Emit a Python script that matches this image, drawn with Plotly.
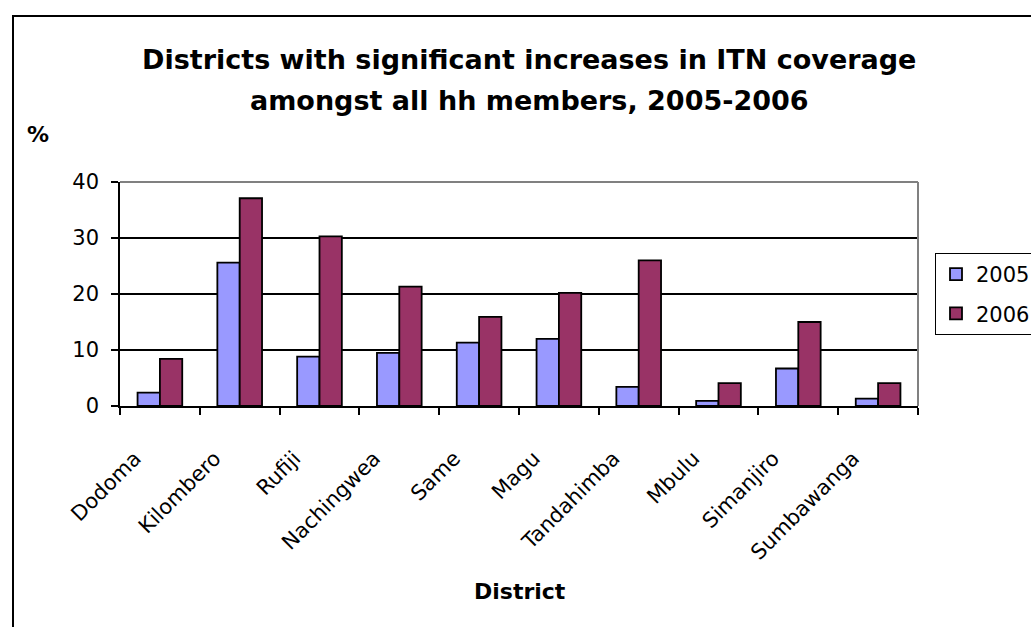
import plotly.graph_objects as go

districts = ["Dodoma", "Kilombero", "Rufiji", "Nachingwea", "Same", "Magu",
             "Tandahimba", "Mbulu", "Simanjiro", "Sumbawanga"]
itn_2005 = [2.4, 25.6, 8.8, 9.5, 11.3, 12.0, 3.4, 0.9, 6.7, 1.3]
itn_2006 = [8.4, 37.1, 30.3, 21.3, 15.9, 20.2, 26.0, 4.1, 15.0, 4.1]
y_ticks = [0, 10, 20, 30, 40]

W, H = 1031, 627
L, R, T, B = 120, 918, 182, 406  # plot area in pixels
FONT = "DejaVu Sans, Arial, sans-serif"

def px(x):
    return (x - L) / (R - L)

def py(y):
    return (B - y) / (B - T)

fig = go.Figure()
fig.add_trace(go.Bar(x=districts, y=itn_2005, name="2005", legendgroup="a",
                     marker=dict(color="#9999FF", line=dict(color="black", width=1.8))))
fig.add_trace(go.Bar(x=districts, y=itn_2006, name="2006", legendgroup="b",
                     marker=dict(color="#993366", line=dict(color="black", width=1.8))))

fig.update_layout(
    width=W, height=H,
    margin=dict(l=L, r=W - R, t=T, b=H - B, autoexpand=False),
    paper_bgcolor="white", plot_bgcolor="white",
    barmode="group", bargap=0.44, bargroupgap=0,
    font=dict(family=FONT, color="black", size=21),
    legend=dict(
        x=px(935), xanchor="left", y=py(253), yanchor="top",
        bordercolor="black", borderwidth=1, bgcolor="white",
        font=dict(size=21, family=FONT), tracegroupgap=9, itemwidth=30,
    ),
    xaxis=dict(
        type="category", tickangle=-45, tickson="boundaries",
        ticks="outside", ticklen=7, tickcolor="black", tickwidth=1.5,
        showline=True, linecolor="black", linewidth=1.5, mirror=False,
        showgrid=False, tickfont=dict(size=21, family=FONT),
        ticklabelstandoff=30, ticklabelshift=-25,
    ),
    yaxis=dict(
        range=[0, 40], tickvals=y_ticks, ticks="outside", ticklen=7,
        tickcolor="black", tickwidth=1.5, showline=True, linecolor="black",
        linewidth=1.5, showgrid=True, gridcolor="black", gridwidth=1.5,
        zeroline=False, tickfont=dict(size=21, family=FONT),
        ticklabelstandoff=8,
    ),
    showlegend=True,
)

# plot area outline (top and right edges in grey)
fig.add_shape(type="line", xref="paper", yref="paper", x0=0, x1=1, y0=1, y1=1,
              line=dict(color="#808080", width=2), layer="above")
fig.add_shape(type="line", xref="paper", yref="paper", x0=1, x1=1, y0=0, y1=1,
              line=dict(color="#808080", width=2), layer="above")

# chart frame
fig.add_shape(type="rect", xref="paper", yref="paper",
              x0=px(13), x1=px(W + 20), y0=py(16), y1=py(H + 20),
              line=dict(color="black", width=2), layer="below")

# two-line title
for line, yc in [("Districts with significant increases in ITN coverage", 59),
                 ("amongst all hh members, 2005-2006", 100)]:
    fig.add_annotation(text="<b>%s</b>" % line, xref="paper", yref="paper",
                       x=px(529), y=py(yc), showarrow=False, xanchor="center",
                       yanchor="middle", font=dict(size=27, family=FONT))

fig.add_annotation(text="<b>%</b>", xref="paper", yref="paper", x=px(38), y=py(134),
                   showarrow=False, font=dict(size=22, family=FONT), xanchor="center", yanchor="middle")
fig.add_annotation(text="<b>District</b>", xref="paper", yref="paper", x=px(520), y=py(591),
                   showarrow=False, font=dict(size=22, family=FONT), xanchor="center", yanchor="middle")

fig.write_html("out.html")
